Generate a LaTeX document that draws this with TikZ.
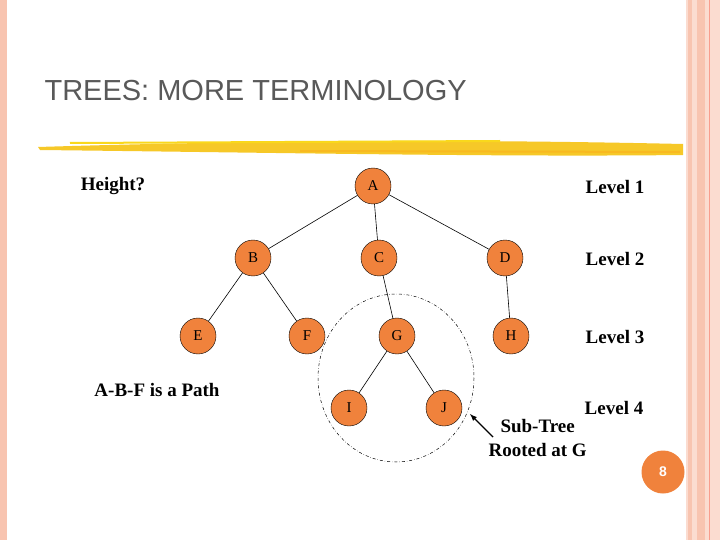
\documentclass[tikz,border=0pt]{standalone}
\usepackage{fontspec}
\setmainfont{Liberation Serif}
\newfontfamily\titlefont{Liberation Sans}
\begin{document}
\begin{tikzpicture}[x=1pt,y=-1pt,
  tnode/.style={circle,draw=black,minimum size=36pt,inner sep=0pt,font=\fontsize{15}{17}\selectfont},
  lab/.style={font=\bfseries\fontsize{19}{22}\selectfont,align=center},
  edge/.style={draw=black,line width=0.6pt}]
\definecolor{pinkb}{RGB}{248,196,176}
\definecolor{nodeor}{RGB}{240,130,60}
\definecolor{hl}{RGB}{246,200,40}
\tikzset{tnode/.append style={fill=nodeor}}
\useasboundingbox (0,0) rectangle (720,540);
\fill[white] (0,0) rectangle (720,540);
\fill[pinkb] (0,0) rectangle (7,540);
\fill[pinkb!60] (686,0) rectangle (720,540);
\fill[pinkb] (688,0) rectangle (692,540);
\fill[pinkb] (697,0) rectangle (705,540);
\draw[pinkb!80!red,line width=0.6pt] (709,0) -- (709,540);
\node[anchor=west,text=black!65,font=\titlefont\fontsize{29}{33}\selectfont] (title) at (41,91) {TREES: MORE TERMINOLOGY};
\fill[hl] (38,147) .. controls (300,139) and (500,140) .. (683,144) -- (683,155) .. controls (500,157) and (300,153) .. (40,150) -- cycle;
\draw[hl!70!yellow,line width=2pt] (70,143) -- (500,141);
\draw[hl!80!orange,line width=2pt] (300,151) -- (680,152);
\draw[dash dot,line width=0.5pt] (396,378) ellipse [x radius=78, y radius=84];
\node[tnode] (A) at (373,186) {A};
\node[tnode] (B) at (253,258) {B};
\node[tnode] (C) at (379,258) {C};
\node[tnode] (D) at (505,258) {D};
\node[tnode] (E) at (198,336) {E};
\node[tnode] (F) at (307,336) {F};
\node[tnode] (G) at (397,336) {G};
\node[tnode] (H) at (511,336) {H};
\node[tnode] (I) at (349,408) {I};
\node[tnode] (J) at (444,408) {J};
\draw[edge] (A) -- (B); \draw[edge] (A) -- (C); \draw[edge] (A) -- (D);
\draw[edge] (B) -- (E); \draw[edge] (B) -- (F);
\draw[edge] (C) -- (G); \draw[edge] (D) -- (H);
\draw[edge] (G) -- (I); \draw[edge] (G) -- (J);
\node[lab] (h) at (113,186) {Height?};
\node[lab] (l1) at (615,187) {Level 1};
\node[lab] (l2) at (615,259) {Level 2};
\node[lab] (l3) at (615,337) {Level 3};
\node[lab] (l4) at (614,408) {Level 4};
\node[lab] (path) at (157,390) {A-B-F is a Path};
\node[lab,anchor=west] (st1) at (497,426) {Sub-Tree};
\node[lab,anchor=west] (st2) at (485,450) {Rooted at G};
\coordinate (as) at (493,437);
\coordinate (ae) at (470,414);
\draw[-latex,line width=1.4pt] (as) -- (ae);
\node[circle,fill=nodeor,minimum size=43pt,inner sep=0pt,text=white,font=\titlefont\bfseries\fontsize{14}{16}\selectfont] (pg) at (663,472) {8};
\end{tikzpicture}
\end{document}
